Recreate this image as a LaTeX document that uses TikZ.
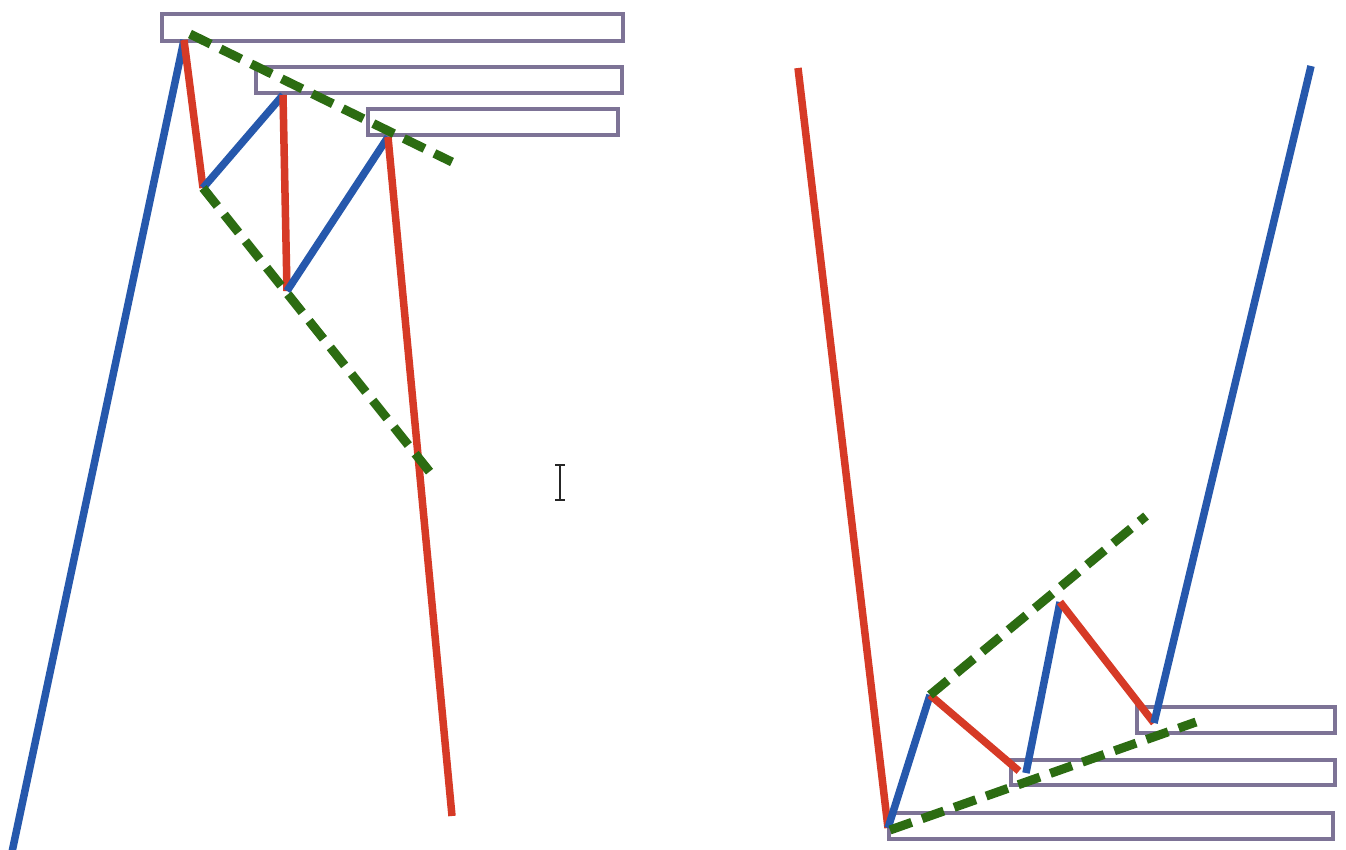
\documentclass[tikz,border=0pt]{standalone}
\begin{document}
\begin{tikzpicture}[x=1pt,y=-1pt,
  upleg/.style={draw=blueL,line width=7.5pt,line join=round},
  downleg/.style={draw=redL,line width=7.5pt,line join=round},
  trend/.style={draw=greenL,line width=9pt,dash pattern=on 23pt off 11pt},
  zone/.style={draw=zoneC,line width=3.8pt},
  cursorline/.style={draw=black!85,line width=2pt}]
\definecolor{blueL}{RGB}{38,88,172}
\definecolor{redL}{RGB}{214,58,38}
\definecolor{greenL}{RGB}{44,108,18}
\definecolor{zoneC}{RGB}{125,115,150}
\fill[white] (0,0) rectangle (1346,849);
\useasboundingbox (0,0) rectangle (1346,849);
% ---------- left pattern ----------
\coordinate (l0) at (12,852);
\coordinate (l1) at (184,40);
\coordinate (l2) at (203,188);
\coordinate (l3) at (283,95);
\coordinate (l4) at (287,291);
\coordinate (l5) at (388,137);
\coordinate (l6) at (452,816);
\coordinate (gu1) at (190,34);
\coordinate (gu2) at (452,162);
\coordinate (gl1) at (203,188);
\coordinate (gl2) at (433,476);
\draw[zone] (162,14) rectangle (623,41);
\draw[zone] (256,67) rectangle (622,93);
\draw[zone] (368,109) rectangle (618,135);
\draw[upleg] (l0) -- (l1);
\draw[downleg] (l1) -- (l2);
\draw[upleg] (l2) -- (l3);
\draw[downleg] (l3) -- (l4);
\draw[upleg] (l4) -- (l5);
\draw[downleg] (l5) -- (l6);
\draw[trend] (gu1) -- (gu2);
\draw[trend] (gl1) -- (gl2);
% ---------- right pattern ----------
\coordinate (r0) at (798,68);
\coordinate (r1) at (888,828);
\coordinate (r2) at (930,695);
\coordinate (r3) at (1019,771);
\coordinate (r3b) at (1026,773);
\coordinate (r4) at (1060,602);
\coordinate (r5) at (1154,723);
\coordinate (r6) at (1311,66);
\coordinate (hu1) at (930,695);
\coordinate (hu2) at (1146,516);
\coordinate (hl1) at (890,830);
\coordinate (hl2) at (1196,722);
\draw[zone] (889,813) rectangle (1333,839);
\draw[zone] (1011,760) rectangle (1335,785);
\draw[zone] (1137,707) rectangle (1335,733);
\draw[downleg] (r0) -- (r1);
\draw[upleg] (r1) -- (r2);
\draw[downleg] (r2) -- (r3);
\draw[upleg] (r3b) -- (r4);
\draw[downleg] (r4) -- (r5);
\draw[upleg] (r5) -- (r6);
\draw[trend] (hu1) -- (hu2);
\draw[trend] (hl1) -- (hl2);
% ---------- text cursor ----------
\coordinate (c1) at (560,465);
\coordinate (c2) at (560,500);
\draw[cursorline] (c1) -- (c2);
\draw[cursorline] (555,465) -- (565,465);
\draw[cursorline] (555,500) -- (565,500);
\end{tikzpicture}
\end{document}
